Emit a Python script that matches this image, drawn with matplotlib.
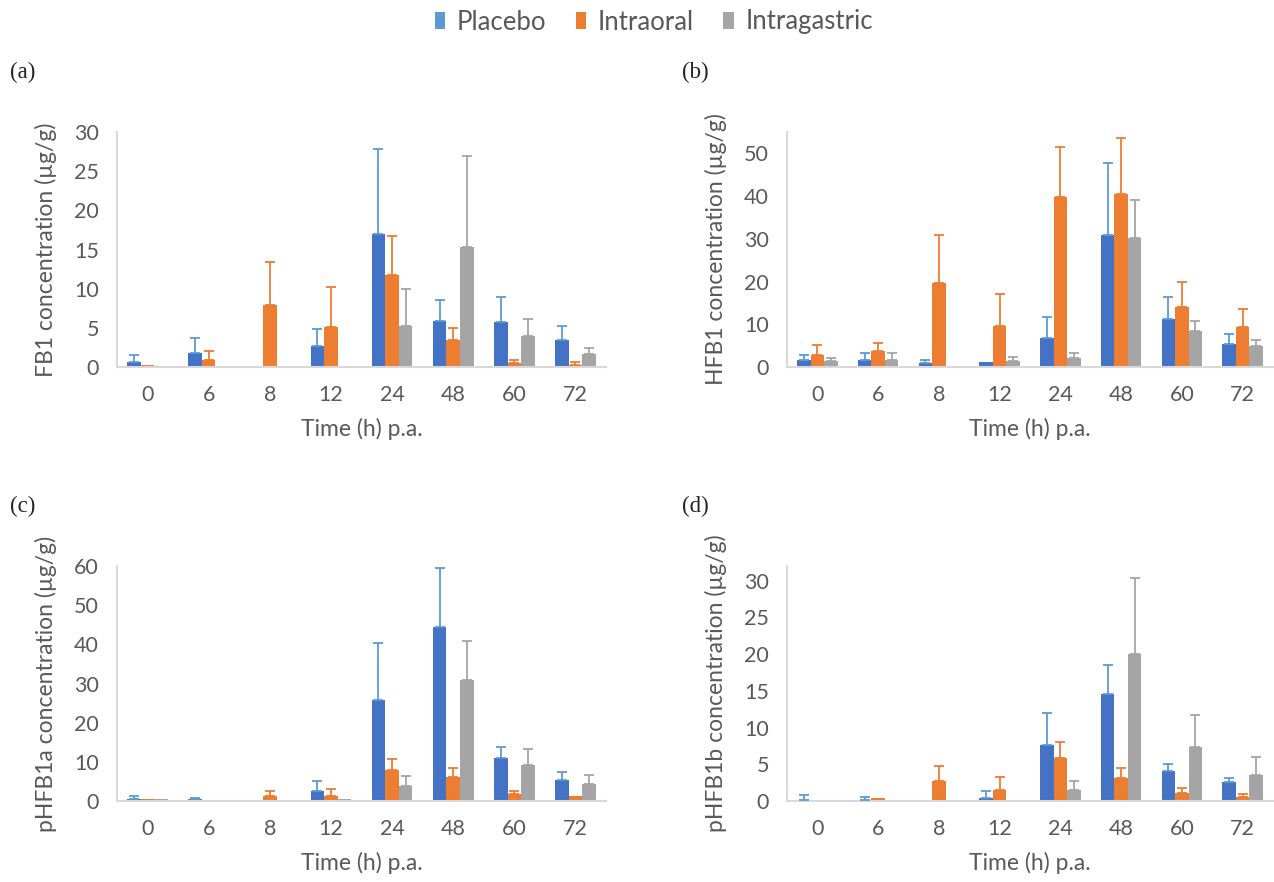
import numpy as np
import matplotlib
matplotlib.use("Agg")
import matplotlib.pyplot as plt
from matplotlib.patches import Patch

plt.rcParams['font.family'] = ['Lato', 'DejaVu Sans']

# ---------------- data ----------------
times = ["0", "6", "8", "12", "24", "48", "60", "72"]
series_names = ["Placebo", "Intraoral", "Intragastric"]

# (a) FB1
fb1_placebo = [0.7, 1.8, 0.0, 2.7, 17.0, 5.9, 5.7, 3.5]
fb1_placebo_sd = [0.8, 1.9, 0.0, 2.1, 10.8, 2.6, 3.2, 1.7]
fb1_intraoral = [0.2, 0.9, 7.9, 5.1, 11.8, 3.4, 0.5, 0.3]
fb1_intraoral_sd = [0.0, 1.1, 5.5, 5.1, 4.9, 1.6, 0.35, 0.4]
fb1_intragastric = [0.0, 0.0, 0.0, 0.0, 5.2, 15.3, 4.0, 1.6]
fb1_intragastric_sd = [0.0, 0.0, 0.0, 0.0, 4.8, 11.7, 2.1, 0.8]

# (b) HFB1
hfb1_placebo = [1.7, 1.7, 0.9, 1.2, 6.9, 30.9, 11.3, 5.3]
hfb1_placebo_sd = [1.1, 1.5, 0.7, 0.0, 4.7, 16.8, 5.1, 2.5]
hfb1_intraoral = [2.9, 3.8, 19.7, 9.7, 39.7, 40.5, 14.1, 9.3]
hfb1_intraoral_sd = [2.3, 1.8, 11.1, 7.5, 11.9, 13.1, 5.9, 4.2]
hfb1_intragastric = [1.4, 1.7, 0.0, 1.3, 2.1, 30.1, 8.5, 4.8]
hfb1_intragastric_sd = [0.6, 1.5, 0.0, 1.1, 1.1, 9.0, 2.3, 1.5]

# (c) pHFB1a
phfb1a_placebo = [0.5, 0.5, 0.3, 2.6, 25.7, 44.4, 10.9, 5.3]
phfb1a_placebo_sd = [0.8, 0.3, 0.0, 2.6, 14.7, 15.2, 3.0, 2.1]
phfb1a_intraoral = [0.4, 0.0, 1.4, 1.4, 7.9, 6.1, 1.8, 1.4]
phfb1a_intraoral_sd = [0.0, 0.0, 1.2, 1.6, 2.9, 2.2, 0.8, 0.0]
phfb1a_intragastric = [0.4, 0.0, 0.0, 0.5, 3.9, 31.0, 9.2, 4.4]
phfb1a_intragastric_sd = [0.0, 0.0, 0.0, 0.0, 2.6, 9.9, 4.2, 2.2]

# (d) pHFB1b
phfb1b_placebo = [0.1, 0.15, 0.0, 0.4, 7.6, 14.6, 4.1, 2.6]
phfb1b_placebo_sd = [0.7, 0.4, 0.0, 0.9, 4.4, 3.9, 0.9, 0.6]
phfb1b_intraoral = [0.0, 0.4, 2.7, 1.5, 5.8, 3.2, 1.05, 0.6]
phfb1b_intraoral_sd = [0.0, 0.0, 2.0, 1.8, 2.2, 1.3, 0.7, 0.3]
phfb1b_intragastric = [0.0, 0.0, 0.0, 0.0, 1.5, 20.0, 7.4, 3.5]
phfb1b_intragastric_sd = [0.0, 0.0, 0.0, 0.0, 1.2, 10.4, 4.3, 2.5]

panel_letters = ["(a)", "(b)", "(c)", "(d)"]
ylabels = ["FB1 concentration (\u00b5g/g)", "HFB1 concentration (\u00b5g/g)",
           "pHFB1a concentration (\u00b5g/g)", "pHFB1b concentration (\u00b5g/g)"]
ymax = [30, 55, 60, 32]
ystep = [5, 10, 10, 5]
xlabel = "Time (h) p.a."

bar_colors = ["#4472C4", "#ED7D31", "#A5A5A5"]
err_colors = ["#5B9BD5", "#ED7D31", "#A5A5A5"]
legend_colors = ["#5B9BD5", "#ED7D31", "#A5A5A5"]
text_color = "#595959"
spine_color = "#D9D9D9"

panels = [
    ([fb1_placebo, fb1_intraoral, fb1_intragastric],
     [fb1_placebo_sd, fb1_intraoral_sd, fb1_intragastric_sd]),
    ([hfb1_placebo, hfb1_intraoral, hfb1_intragastric],
     [hfb1_placebo_sd, hfb1_intraoral_sd, hfb1_intragastric_sd]),
    ([phfb1a_placebo, phfb1a_intraoral, phfb1a_intragastric],
     [phfb1a_placebo_sd, phfb1a_intraoral_sd, phfb1a_intragastric_sd]),
    ([phfb1b_placebo, phfb1b_intraoral, phfb1b_intragastric],
     [phfb1b_placebo_sd, phfb1b_intraoral_sd, phfb1b_intragastric_sd]),
]

W, H = 1274, 882
fig = plt.figure(figsize=(W / 100, H / 100), dpi=100)

# axes boxes in pixels: left, top, right, bottom
boxes = [(117, 132, 606, 367), (787, 132, 1273, 367),
         (117, 566, 606, 801), (787, 566, 1273, 801)]
letter_pos = [(10, 72), (682, 72), (10, 506), (682, 506)]

bw = 0.222
x = np.arange(len(times))
for i, (means, sds) in enumerate(panels):
    l, t, r, b = boxes[i]
    ax = fig.add_axes([l / W, 1 - b / H, (r - l) / W, (b - t) / H])
    for k in range(3):
        pos = x + (k - 1) * bw
        m = np.array(means[k], dtype=float)
        s = np.array(sds[k], dtype=float)
        ax.bar(pos, m, width=bw, color=bar_colors[k], zorder=2)
        mask = s > 0
        ax.errorbar(pos[mask], m[mask],
                    yerr=[np.zeros(mask.sum()), s[mask]],
                    fmt='none', ecolor=err_colors[k], elinewidth=1.3,
                    capsize=3.4, capthick=1.3, zorder=3)
    ax.set_xlim(-0.5, len(times) - 0.5)
    ax.set_ylim(0, ymax[i])
    ax.set_yticks(np.arange(0, ymax[i] + 0.01, ystep[i]))
    ax.set_xticks(x)
    ax.set_xticklabels(times)
    ax.tick_params(axis='both', length=0, labelsize=15.5, labelcolor=text_color)
    ax.tick_params(axis='y', pad=13)
    ax.tick_params(axis='x', pad=13)
    for sp in ['top', 'right']:
        ax.spines[sp].set_visible(False)
    for sp in ['left', 'bottom']:
        ax.spines[sp].set_color(spine_color)
        ax.spines[sp].set_linewidth(1.5)
    ax.set_ylabel(ylabels[i], fontsize=16.5, color=text_color, labelpad=12)
    ax.set_xlabel(xlabel, fontsize=16.5, color=text_color, labelpad=9)
    lx, ly = letter_pos[i]
    fig.text(lx / W, 1 - ly / H, panel_letters[i], fontsize=16.5,
             family='Liberation Serif', color='#222222',
             ha='left', va='center')

handles = [Patch(facecolor=c, edgecolor='none') for c in legend_colors]
fig.legend(handles, series_names, loc='center', bbox_to_anchor=(654 / W, 1 - 22 / H),
           ncol=3, frameon=False, fontsize=18.5, handlelength=0.4, handleheight=0.65,
           handletextpad=0.45, columnspacing=1.15, labelcolor=text_color)

fig.savefig("out.png", dpi=100)
